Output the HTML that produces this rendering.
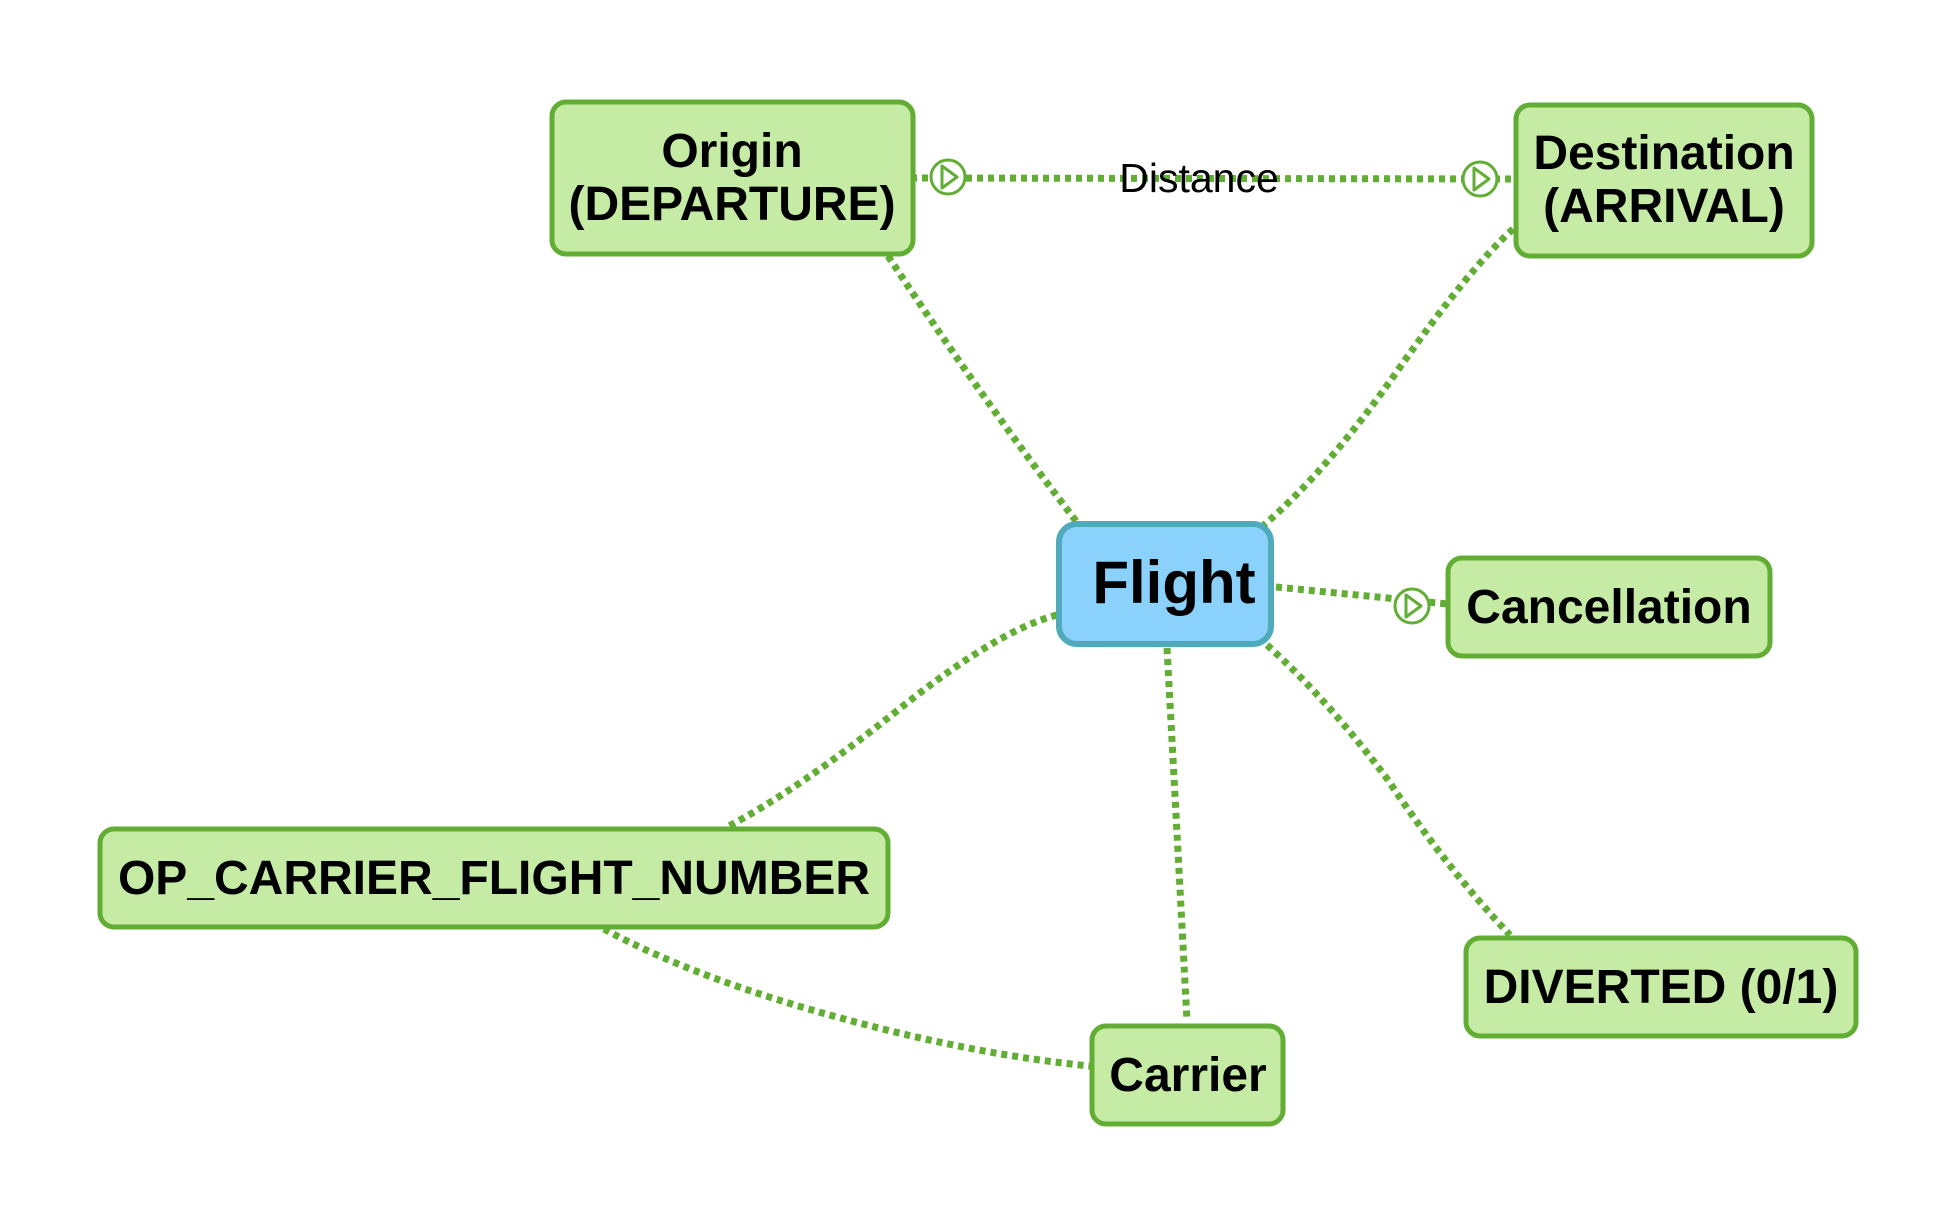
<!DOCTYPE html>
<html><head><meta charset="utf-8"><style>
html,body{margin:0;padding:0;background:#fff;}
svg{display:block;}
text{font-family:"Liberation Sans",Arial,sans-serif;font-weight:bold;fill:#000;}
</style></head><body>
<svg width="1954" height="1222" viewBox="0 0 1954 1222" xmlns="http://www.w3.org/2000/svg">
<g fill="none" stroke="#62ad33" stroke-width="7" stroke-dasharray="6 5">
<path d="M888 256 Q983 400 1076 521"/>
<path d="M1513 229 Q1468 270 1398 370 Q1328 470 1264 525"/>
<path d="M911 178 L1513 179"/>
<path d="M1276 587 L1448 604"/>
<path d="M1057 615 Q998 630 898 710 Q798 790 727 827"/>
<path d="M1167 648 Q1178 850 1187 1021"/>
<path d="M1267 645 Q1328 700 1388 780 Q1448 870 1510 935"/>
<path d="M604 929 Q698 980 848 1020 Q978 1055 1090 1066"/>
</g>
<g fill="#fff" stroke="#62ad33" stroke-width="3">
<circle cx="948" cy="177" r="17"/>
<circle cx="1480" cy="179" r="17"/>
<circle cx="1412" cy="606" r="17"/>
</g>
<g fill="none" stroke="#62ad33" stroke-width="3" stroke-linejoin="round">
<path d="M942 166 L957 177 L942 188 Z"/>
<path d="M1474 168 L1489 179 L1474 190 Z"/>
<path d="M1406 595 L1421 606 L1406 617 Z"/>
</g>
<text x="1199" y="192" font-size="41" text-anchor="middle" style="font-weight:normal">Distance</text>
<g fill="#c5eba5" stroke="#62ad33" stroke-width="5">
<rect x="552" y="102" width="361" height="152" rx="14"/>
<rect x="1516" y="105" width="296" height="151" rx="14"/>
<rect x="1448" y="558" width="322" height="98" rx="14"/>
<rect x="100" y="829" width="788" height="98" rx="14"/>
<rect x="1466" y="938" width="390" height="98" rx="14"/>
<rect x="1092" y="1026" width="191" height="98" rx="14"/>
</g>
<rect x="1059" y="524" width="212" height="120" rx="18" fill="#8ad2fb" stroke="#4faabc" stroke-width="6"/>
<g font-size="48">
<text x="732" y="167" text-anchor="middle">Origin</text>
<text x="732" y="220" text-anchor="middle">(DEPARTURE)</text>
<text x="1664" y="169" text-anchor="middle">Destination</text>
<text x="1664" y="222" text-anchor="middle">(ARRIVAL)</text>
<text x="1609" y="623" text-anchor="middle">Cancellation</text>
<text x="494" y="894" text-anchor="middle">OP_CARRIER_FLIGHT_NUMBER</text>
<text x="1661" y="1003" text-anchor="middle">DIVERTED (0/1)</text>
<text x="1188" y="1091" text-anchor="middle">Carrier</text>
</g>
<text x="1174" y="603" font-size="60" text-anchor="middle">Flight</text>
</svg>
</body></html>
